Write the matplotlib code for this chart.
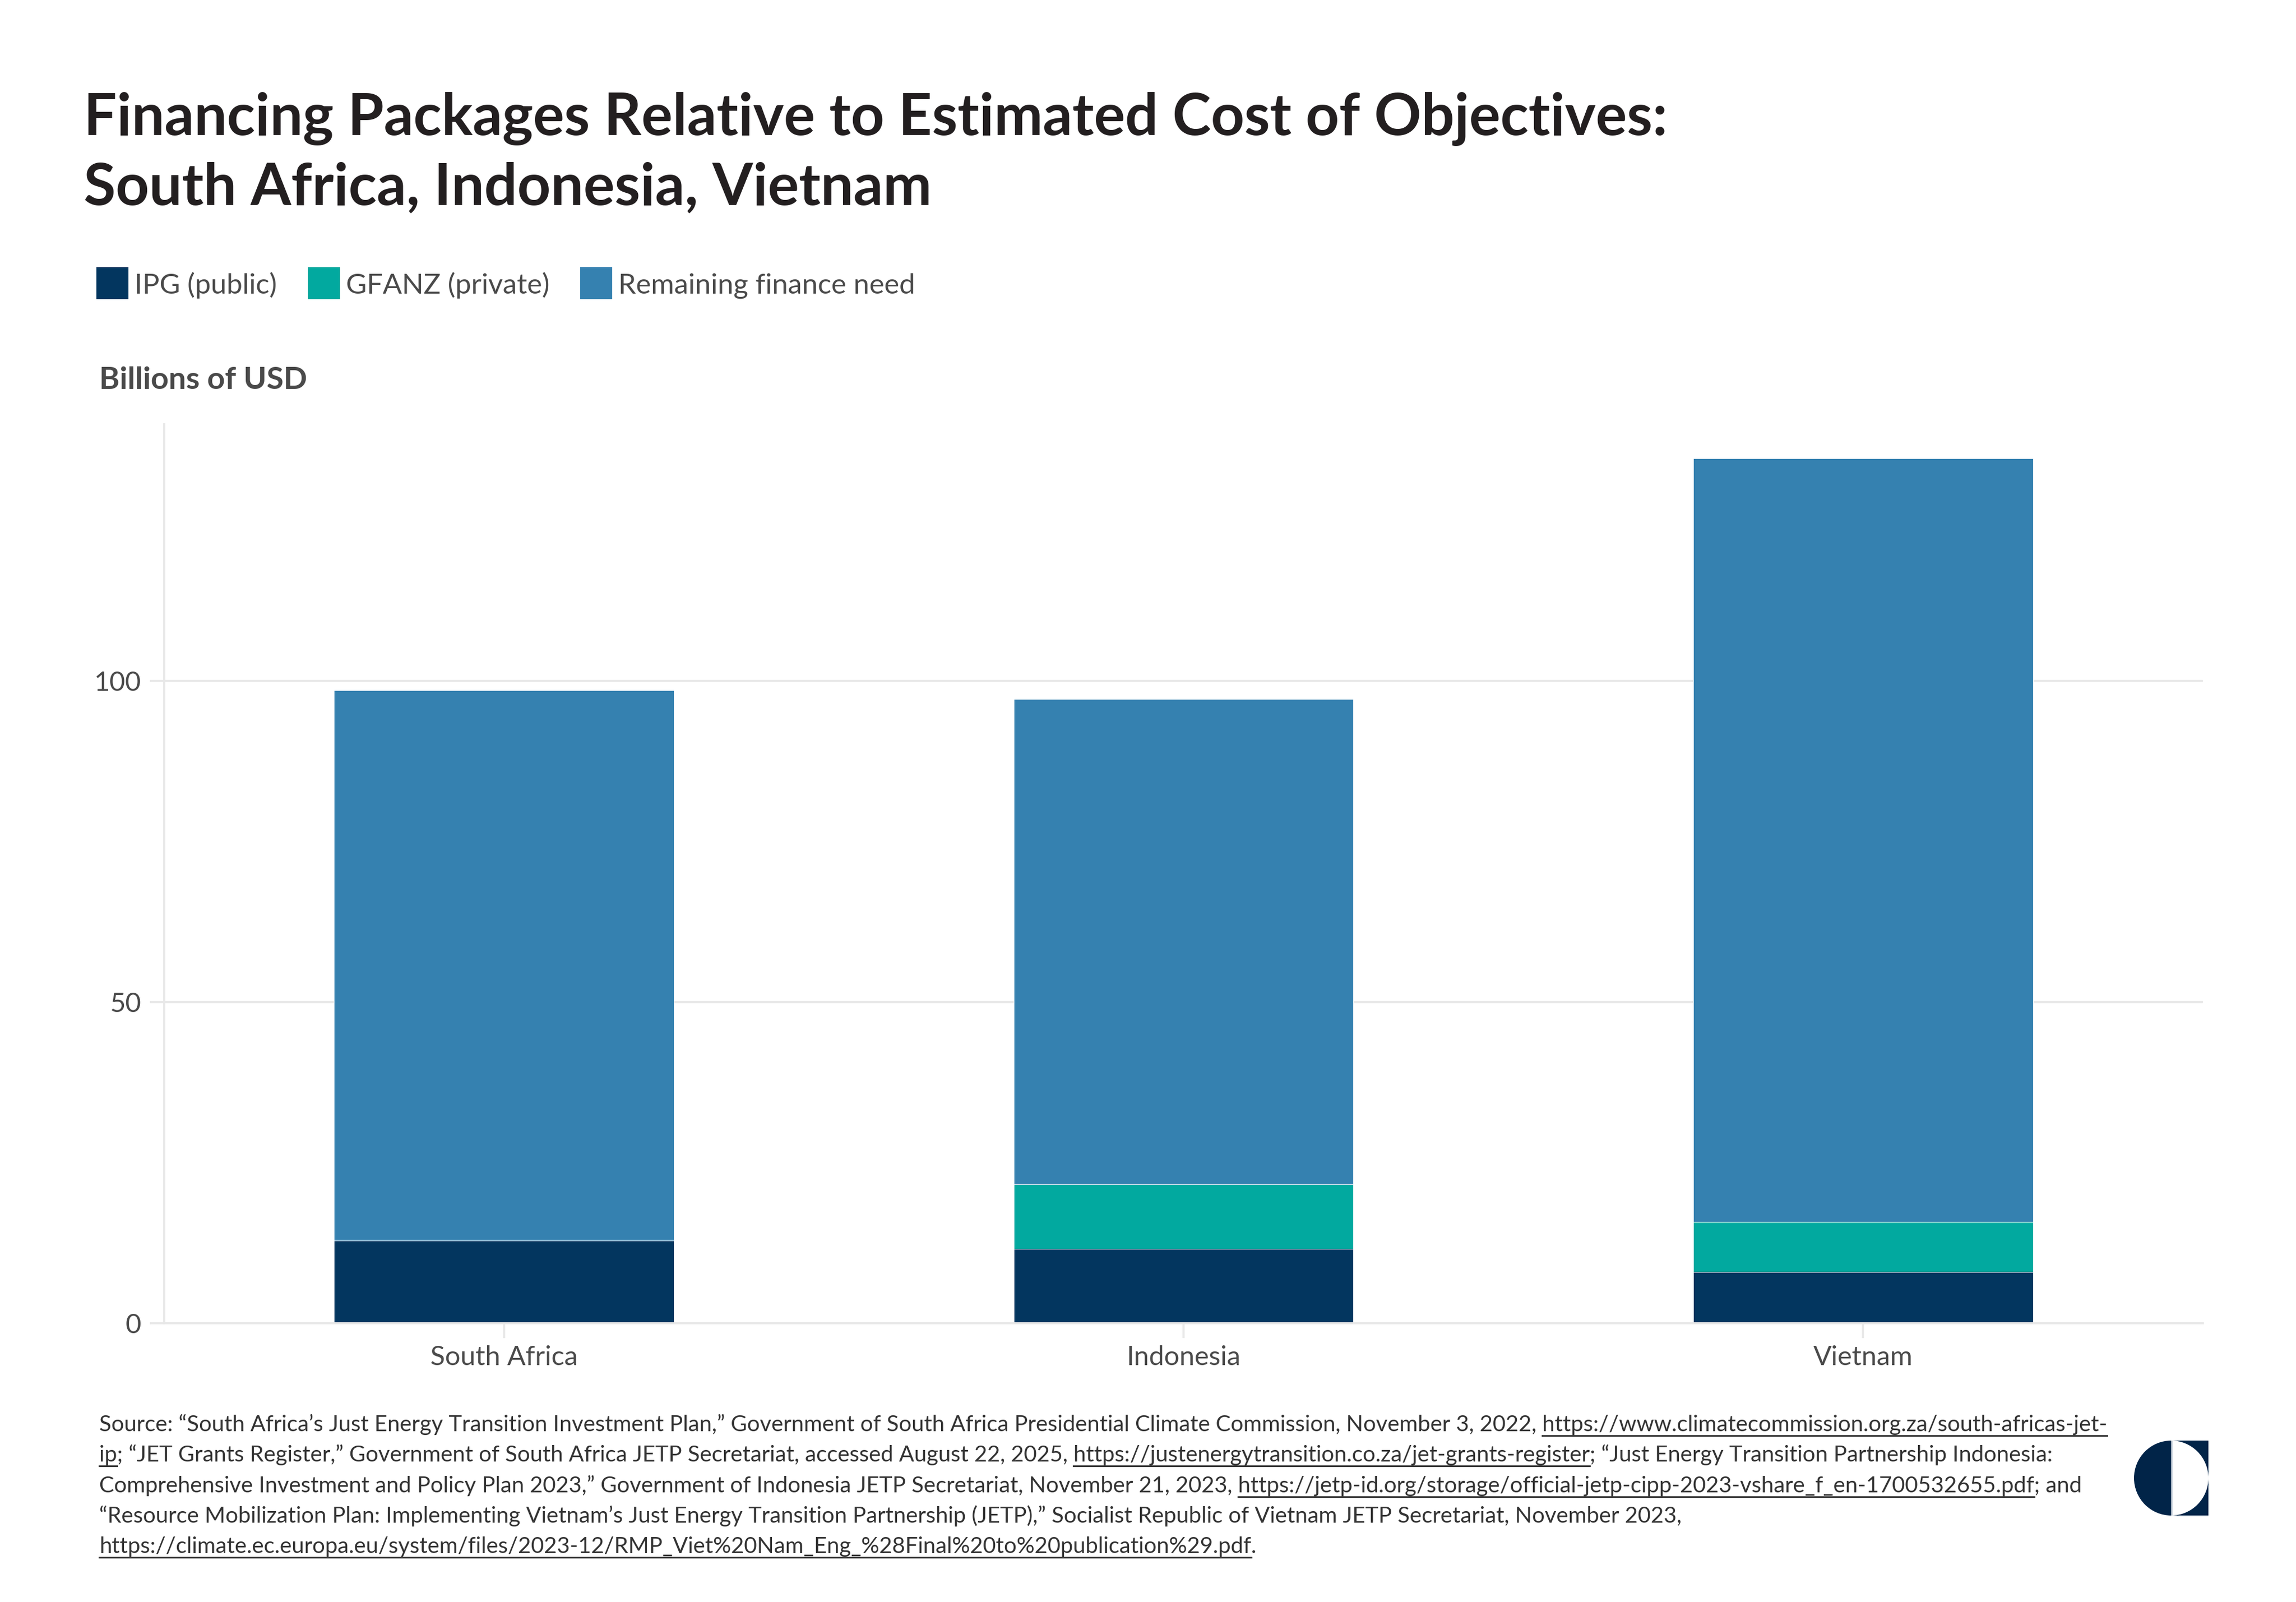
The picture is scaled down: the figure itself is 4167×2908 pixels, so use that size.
import matplotlib
matplotlib.use("Agg")
import matplotlib.pyplot as plt
import numpy as np
from matplotlib.lines import Line2D
from matplotlib.patches import Rectangle, Wedge

# dados (bilhões de USD)
paises = ["South Africa", "Indonesia", "Vietnam"]
ipg = [12.9, 11.6, 8.0]
gfanz = [0.0, 10.0, 7.8]
restante = [85.7, 75.6, 118.9]
series = ["IPG (public)", "GFANZ (private)", "Remaining finance need"]
yticks = [0, 50, 100]

CORES = ["#03365f", "#02a99f", "#3581b0"]
TITULO = "#231f20"
CINZA_TXT = "#4a4a4a"
GRADE = "#e8e8e8"
NAVY = "#012448"

W, H = 4167, 2908
DPI = 300
plt.rcParams["font.family"] = ["Lato", "DejaVu Sans"]

fig = plt.figure(figsize=(W / DPI, H / DPI), dpi=DPI)


def fx(px):
    return px / W


def fy(py):
    return 1 - py / H


# ------------------------- título ---------------------------------
fig.text(fx(152), fy(244), "Financing Packages Relative to Estimated Cost of Objectives:",
         fontsize=25.4, fontweight="bold", color=TITULO, va="baseline")
fig.text(fx(152), fy(372), "South Africa, Indonesia, Vietnam",
         fontsize=25.4, fontweight="bold", color=TITULO, va="baseline")

# ------------------------- legenda --------------------------------
renderer = fig.canvas.get_renderer()
x = 177
for nome, cor in zip(series, CORES):
    fig.add_artist(Rectangle((fx(x), fy(541)), fx(54), 54 / H, color=cor,
                             transform=fig.transFigure))
    t = fig.text(fx(x + 67), fy(533), nome, fontsize=12.35, color=CINZA_TXT,
                 va="baseline")
    x = x + 67 + t.get_window_extent(renderer).width + 58

fig.text(fx(180), fy(706), "Billions of USD", fontsize=13.5, fontweight="bold",
         color=CINZA_TXT, va="baseline")

# ------------------------- gráfico --------------------------------
ax = fig.add_axes([fx(298), fy(2402), fx(3998 - 298), (2402 - 770) / H])
xpos = np.arange(len(paises))
base = np.zeros(len(paises))
for vals, cor, nome in zip([ipg, gfanz, restante], CORES, series):
    vals = np.array(vals, dtype=float)
    ax.bar(xpos, vals, bottom=base, width=0.5, color=cor, label=nome,
           edgecolor="#ffffff", linewidth=0.25)
    base += vals

ax.set_xlim(-0.5, 2.5)
ax.set_ylim(0, 140)
ax.set_yticks(yticks)
ax.set_xticks(xpos)
ax.set_xticklabels(paises)
ax.grid(axis="y", color=GRADE, linewidth=0.9)
ax.set_axisbelow(True)
for sp in ("top", "right"):
    ax.spines[sp].set_visible(False)
for sp in ("left", "bottom"):
    ax.spines[sp].set_color(GRADE)
    ax.spines[sp].set_linewidth(0.9)
ax.tick_params(axis="y", length=6.2, width=0.9, color=GRADE, labelsize=11.8,
               labelcolor=CINZA_TXT, pad=3.8)
ax.tick_params(axis="x", length=6.5, width=0.9, color=GRADE, labelsize=11.8,
               labelcolor=CINZA_TXT, pad=3)

# ------------------------- fonte ----------------------------------
linhas = [
    [("Source: \u201cSouth Africa\u2019s Just Energy Transition Investment Plan,\u201d Government of South Africa "
      "Presidential Climate Commission, November 3, 2022, ", False),
     ("https://www.climatecommission.org.za/south-africas-jet-", True)],
    [("ip", True),
     ("; \u201cJET Grants Register,\u201d Government of South Africa JETP Secretariat, accessed August 22, 2025, ", False),
     ("https://justenergytransition.co.za/jet-grants-register", True),
     ("; \u201cJust Energy Transition Partnership Indonesia:", False)],
    [("Comprehensive Investment and Policy Plan 2023,\u201d Government of Indonesia JETP Secretariat, "
      "November 21, 2023, ", False),
     ("https://jetp-id.org/storage/official-jetp-cipp-2023-vshare_f_en-1700532655.pdf", True),
     ("; and", False)],
    [("\u201cResource Mobilization Plan: Implementing Vietnam\u2019s Just Energy Transition Partnership (JETP),\u201d "
      "Socialist Republic of Vietnam JETP Secretariat, November 2023,", False)],
    [("https://climate.ec.europa.eu/system/files/2023-12/RMP_Viet%20Nam_Eng_%28Final%20to%20publication%29.pdf", True),
     (".", False)],
]

FS_FONTE = 9.75
medidor = fig.text(0, 0, "", fontsize=FS_FONTE)


def largura(s):
    medidor.set_text(s + "|")
    w1 = medidor.get_window_extent(renderer).width
    medidor.set_text("|")
    return w1 - medidor.get_window_extent(renderer).width


y0 = 2598
for i, partes in enumerate(linhas):
    yb = y0 + i * 55.3
    texto = "".join(p for p, _ in partes)
    fig.text(fx(180), fy(yb), texto, fontsize=FS_FONTE, color="#333333",
             va="baseline")
    prefixo = ""
    for p, link in partes:
        if link:
            a = 180 + largura(prefixo)
            b = 180 + largura(prefixo + p)
            fig.add_artist(Line2D([fx(a), fx(b)], [fy(yb + 8), fy(yb + 8)],
                                  transform=fig.transFigure, color="#333333",
                                  linewidth=0.7))
        prefixo += p
medidor.set_visible(False)

# ------------------------- logotipo -------------------------------
axl = fig.add_axes([fx(3873), fy(2751), fx(135), 136 / H])
axl.set_xlim(-1, 1)
axl.set_ylim(-1, 1)
axl.axis("off")
axl.add_patch(Rectangle((0, -1), 1, 2, color=NAVY, linewidth=0))
axl.add_patch(Wedge((0, 0), 1, -90, 90, color="white", linewidth=0))
axl.add_patch(Wedge((0, 0), 1, 90, 270, color=NAVY, linewidth=0))
axl.plot([0.02, 0.02], [-1, 1], color="#c9d3de", linewidth=0.5)

fig.savefig("out.png", dpi=DPI, facecolor="white")
